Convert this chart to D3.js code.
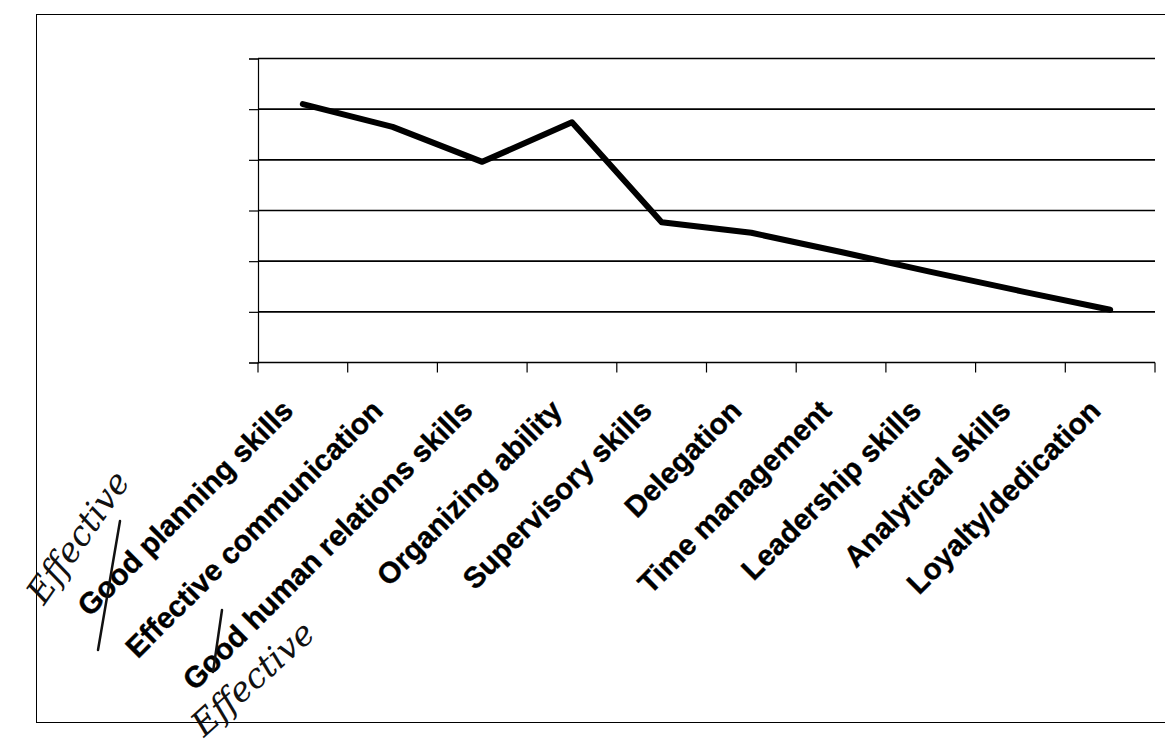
<!DOCTYPE html>
<html>
<head>
<meta charset="utf-8">
<script src="https://cdn.jsdelivr.net/npm/d3@7/dist/d3.min.js"></script>
<style>
  html, body { margin: 0; padding: 0; background: #fff; }
  svg { display: block; }
</style>
</head>
<body>
<svg id="chart" width="1165" height="747"></svg>
<script>
// Skill categories along the x axis
const categories = [
  "Good planning skills",
  "Effective communication",
  "Good human relations skills",
  "Organizing ability",
  "Supervisory skills",
  "Delegation",
  "Time management",
  "Leadership skills",
  "Analytical skills",
  "Loyalty/dedication"
];

// Rating for each skill
const ratings = [5.10, 4.65, 3.96, 4.74, 2.77, 2.56, 2.18, 1.79, 1.41, 1.04];

// Gridline levels on the (unlabelled) value axis
const yTicks = [0, 1, 2, 3, 4, 5, 6];

const svg = d3.select("#chart");

// Outer chart frame
svg.append("rect")
  .attr("x", 36.5).attr("y", 14.5)
  .attr("width", 1145).attr("height", 708)
  .attr("fill", "#fff")
  .attr("stroke", "#000").attr("stroke-width", 1);

const plot = { left: 258, right: 1155, top: 58.5, bottom: 362.5 };

const x = d3.scaleBand()
  .domain(categories)
  .range([plot.left, plot.right])
  .paddingInner(0).paddingOuter(0);

const y = d3.scaleLinear()
  .domain([0, 6])
  .range([plot.bottom, plot.top]);

const cx = d => x(d) + x.bandwidth() / 2;

// Horizontal gridlines
svg.append("g")
  .selectAll("line")
  .data(yTicks.filter(v => v > 0))
  .join("line")
  .attr("x1", plot.left).attr("x2", plot.right)
  .attr("y1", d => y(d)).attr("y2", d => y(d))
  .attr("stroke", "#000").attr("stroke-width", 1.6);

// Value axis (no labels, outer ticks only)
const yAxis = d3.axisLeft(y).tickValues(yTicks).tickSize(9).tickFormat("");
svg.append("g")
  .attr("transform", `translate(${plot.left},0)`)
  .call(yAxis)
  .call(g => g.selectAll("line").attr("stroke", "#000").attr("stroke-width", 1.2))
  .call(g => g.select(".domain").attr("stroke", "#000").attr("stroke-width", 1.2));

// Category axis: ticks sit on the band boundaries
const boundaries = categories.map(c => x(c)).concat([plot.right]);
const xg = svg.append("g");
xg.append("line")
  .attr("x1", plot.left).attr("x2", plot.right)
  .attr("y1", plot.bottom).attr("y2", plot.bottom)
  .attr("stroke", "#000").attr("stroke-width", 1.6);
xg.selectAll("line.tick")
  .data(boundaries)
  .join("line")
  .attr("class", "tick")
  .attr("x1", d => d).attr("x2", d => d)
  .attr("y1", plot.bottom).attr("y2", plot.bottom + 10)
  .attr("stroke", "#000").attr("stroke-width", 1.2);

// Rotated category labels, right end of the baseline just below each band centre
xg.selectAll("text")
  .data(categories)
  .join("text")
  .attr("transform", d => `translate(${cx(d) - 8},${plot.bottom + 50}) rotate(-45)`)
  .attr("text-anchor", "end")
  .attr("font-family", "'Liberation Sans', Arial, sans-serif")
  .attr("font-weight", "bold")
  .attr("font-size", 29.5)
  .attr("fill", "#000")
  .attr("stroke", "#000")
  .attr("stroke-width", 0.4)
  .text(d => d);

// Rating line
const line = d3.line()
  .x((d, i) => cx(categories[i]))
  .y(d => y(d))
  .curve(d3.curveLinear);

svg.append("path")
  .datum(ratings)
  .attr("d", line)
  .attr("fill", "none")
  .attr("stroke", "#000")
  .attr("stroke-width", 6)
  .attr("stroke-linejoin", "round")
  .attr("stroke-linecap", "round");

// Handwritten notes in the margin
const notes = svg.append("g")
  .attr("font-family", "'DejaVu Serif', serif")
  .attr("font-style", "italic")
  .attr("fill", "#111");

notes.append("text")
  .attr("transform", "translate(44,606) rotate(-55)")
  .attr("font-size", 34)
  .attr("font-weight", 200)
  .text("Effective");

notes.append("text")
  .attr("transform", "translate(204,738) rotate(-42)")
  .attr("font-size", 34)
  .attr("font-weight", 200)
  .text("Effective");

notes.append("line")
  .attr("x1", 120).attr("y1", 521).attr("x2", 98).attr("y2", 650)
  .attr("stroke", "#111").attr("stroke-width", 2.5).attr("stroke-linecap", "round");

notes.append("line")
  .attr("x1", 222).attr("y1", 610).attr("x2", 213).attr("y2", 672)
  .attr("stroke", "#111").attr("stroke-width", 2.5).attr("stroke-linecap", "round");
</script>
</body>
</html>
